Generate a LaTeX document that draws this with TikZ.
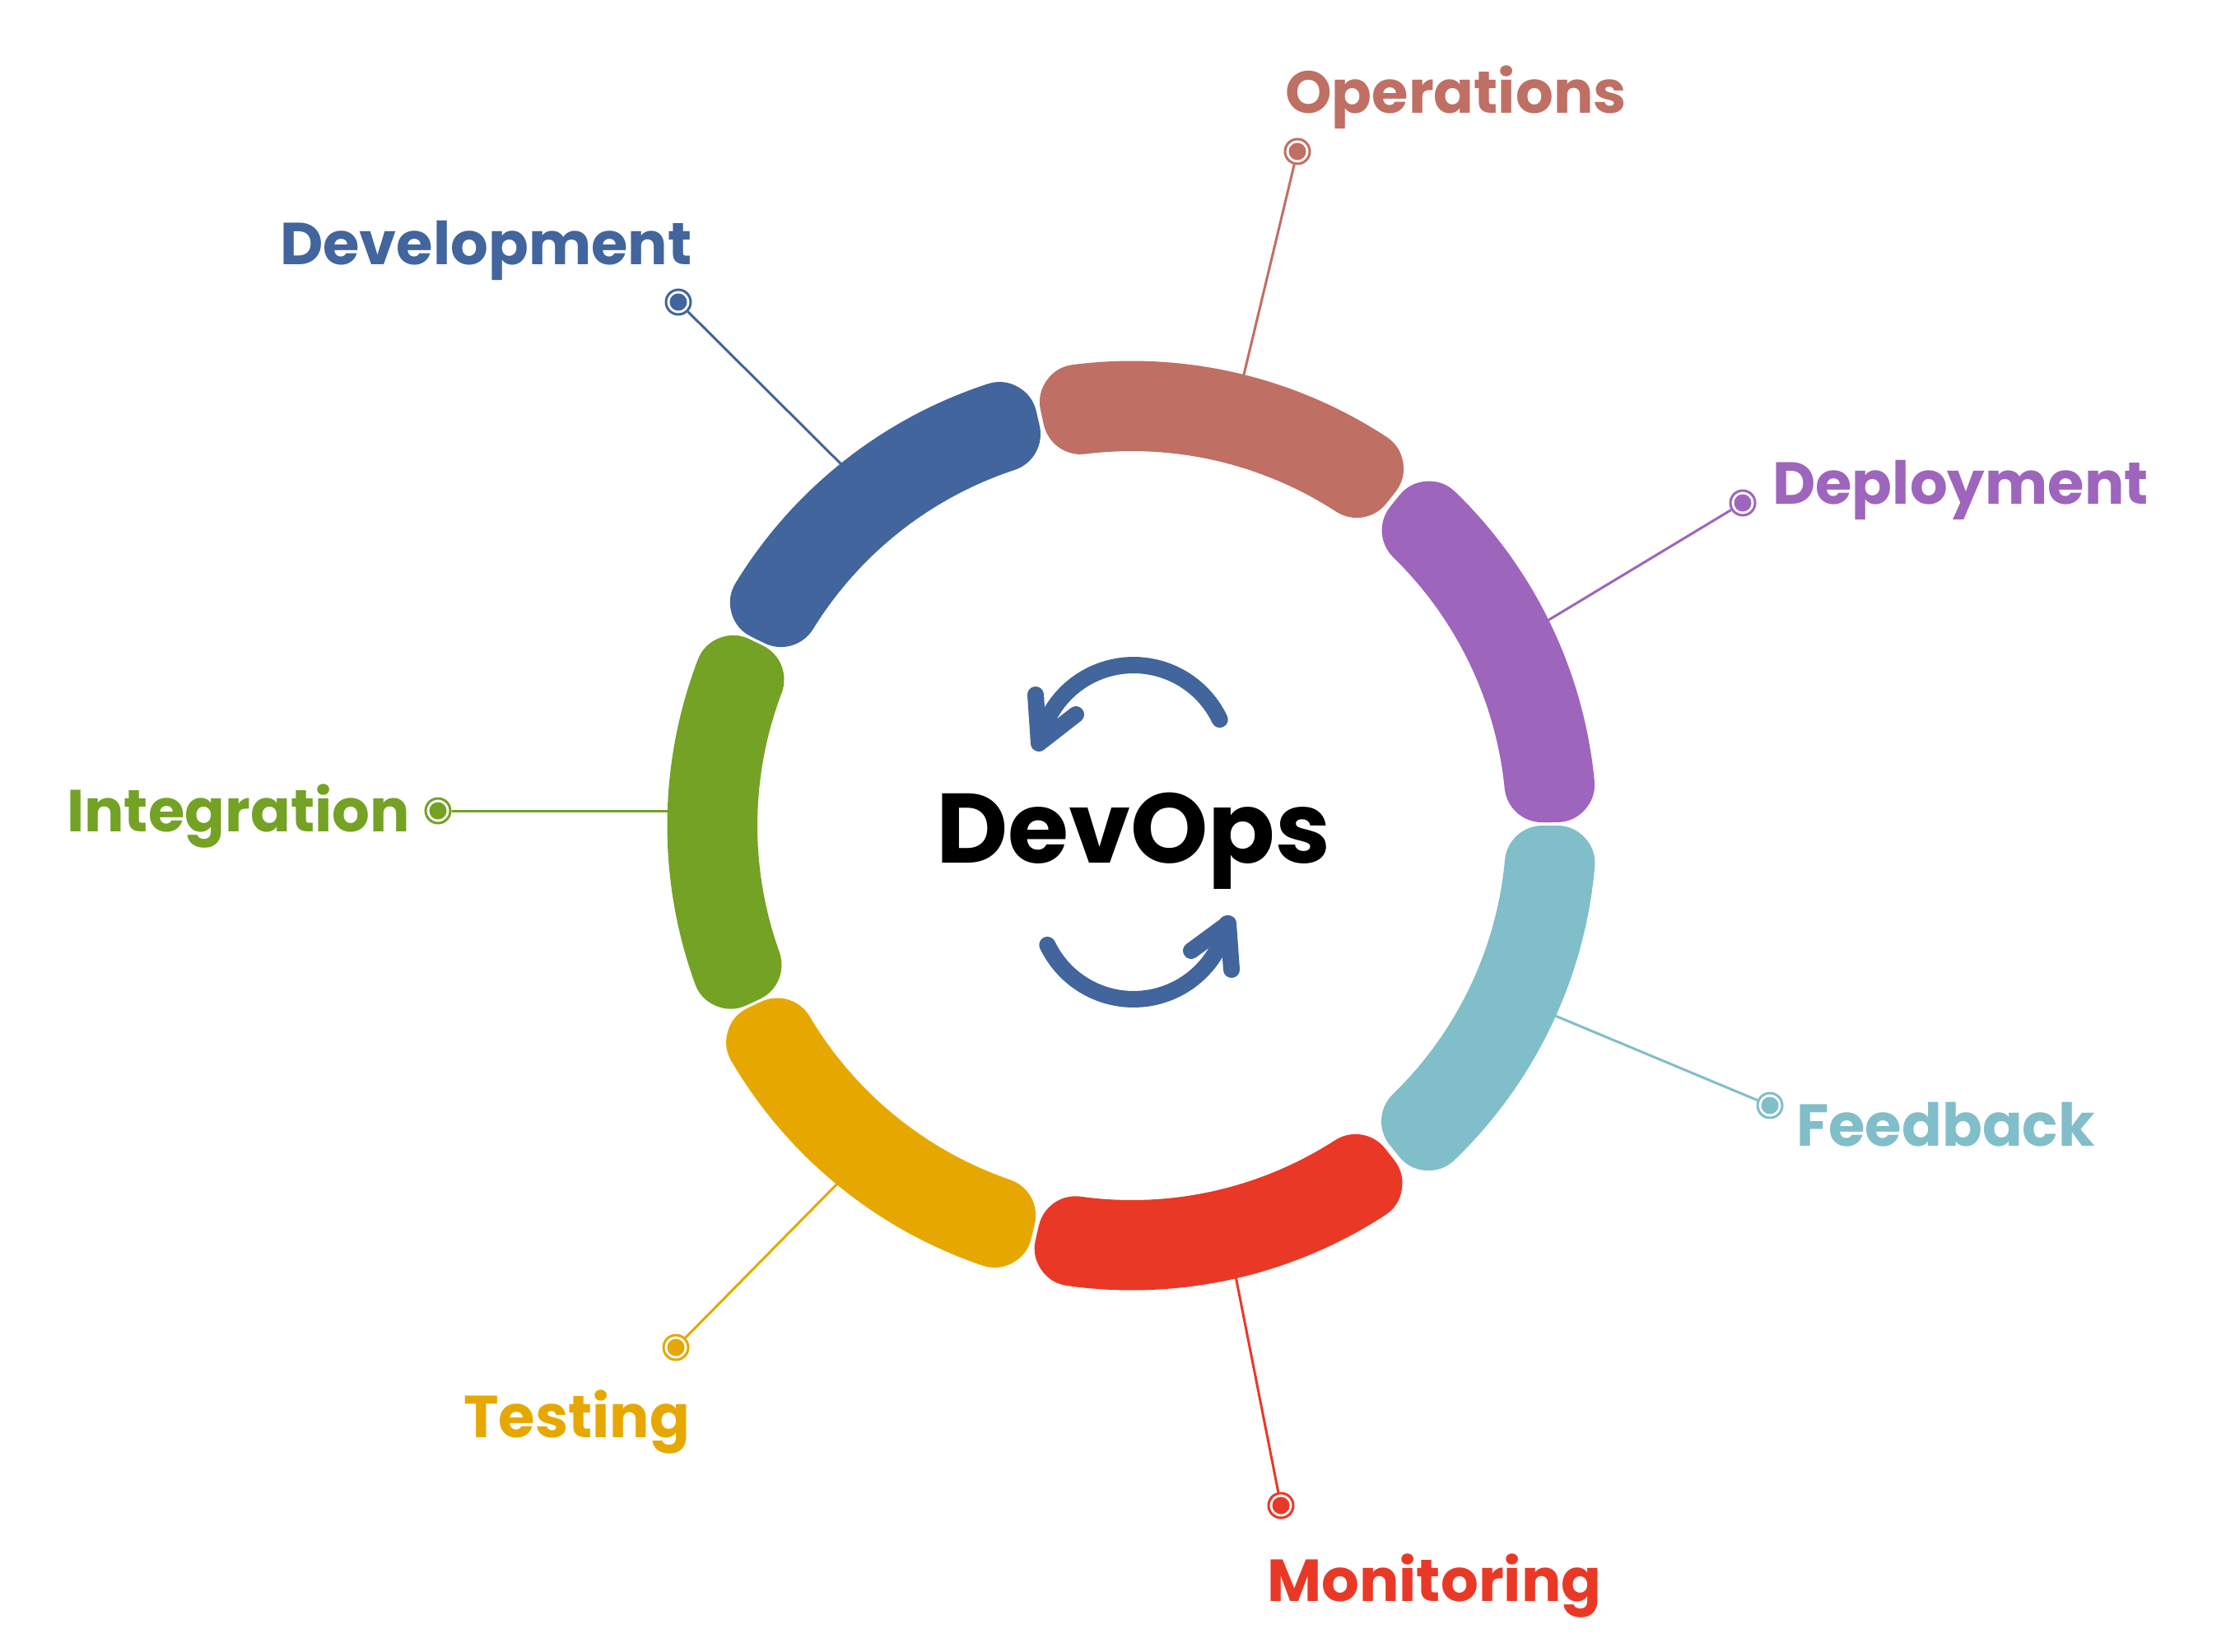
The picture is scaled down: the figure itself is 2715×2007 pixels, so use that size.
\documentclass[tikz,border=0pt]{standalone}
\usepackage{fontspec}
\setmainfont{Poppins}
\definecolor{cblue}{HTML}{41659C}
\definecolor{cpink}{HTML}{BF6F63}
\definecolor{cpurple}{HTML}{9E65BD}
\definecolor{cteal}{HTML}{80BEC9}
\definecolor{cred}{HTML}{EA3826}
\definecolor{cyellow}{HTML}{E6A800}
\definecolor{cgreen}{HTML}{74A224}
\newcommand{\ringseg}[3]{%
  \filldraw[#1,line width=92pt,line join=round]
    plot[domain=#2+5.09:#3-5.09,samples=50] ({1375+518.5*cos(\x)},{1003-518.5*sin(\x)})
    -- plot[domain=#3-5.27:#2+5.27,samples=50] ({1375+501*cos(\x)},{1003-501*sin(\x)})
    -- cycle;}
\tikzset{
  ringdot/.style={circle,draw=#1,fill=white,line width=3pt,minimum size=30pt,inner sep=0pt},
  coredot/.style={circle,fill=#1,minimum size=21pt,inner sep=0pt},
  spoke/.style={draw=#1,line width=3pt},
  lbl/.style={text=#1,anchor=base west,inner sep=0pt,font=\fontsize{72}{86}\selectfont\bfseries},
  arrowstroke/.style={draw=cblue,line width=20pt,line cap=round,line join=round},
}
\begin{document}
\begin{tikzpicture}[x=1pt,y=-1pt]
\useasboundingbox (0,0) rectangle (2715,2007);
\fill[white] (0,0) rectangle (2715,2007);
% connector free ends, under the ring
\coordinate (opEnd) at (1505,480);
\coordinate (deEnd) at (1860,766);
\coordinate (feEnd) at (1870,1226);
\coordinate (moEnd) at (1497,1530);
\coordinate (teEnd) at (1030,1425);
\coordinate (inEnd) at (830,985);
\coordinate (dvEnd) at (1040,582);
% marker dots
\node[ringdot=cpink]   (opRing) at (1576,184)  {};
\node[ringdot=cpurple] (deRing) at (2117,611)  {};
\node[ringdot=cteal]   (feRing) at (2150,1343) {};
\node[ringdot=cred]    (moRing) at (1556,1829) {};
\node[ringdot=cyellow] (teRing) at (821,1637)  {};
\node[ringdot=cgreen]  (inRing) at (532,985)   {};
\node[ringdot=cblue]   (dvRing) at (824,367)   {};
\node[coredot=cpink]   (opCore) at (opRing) {};
\node[coredot=cpurple] (deCore) at (deRing) {};
\node[coredot=cteal]   (feCore) at (feRing) {};
\node[coredot=cred]    (moCore) at (moRing) {};
\node[coredot=cyellow] (teCore) at (teRing) {};
\node[coredot=cgreen]  (inCore) at (inRing) {};
\node[coredot=cblue]   (dvCore) at (dvRing) {};
% connectors
\draw[spoke=cpink]   (opRing) -- (opEnd);
\draw[spoke=cpurple] (deRing) -- (deEnd);
\draw[spoke=cteal]   (feRing) -- (feEnd);
\draw[spoke=cred]    (moRing) -- (moEnd);
\draw[spoke=cyellow] (teRing) -- (teEnd);
\draw[spoke=cgreen]  (inRing) -- (inEnd);
\draw[spoke=cblue]   (dvRing) -- (dvEnd);
% ring segments
\ringseg{cpink}{51.7}{102.4}
\ringseg{cpurple}{0.45}{51.0}
\ringseg{cteal}{-51.1}{0}
\ringseg{cred}{-103.1}{-51.9}
\ringseg{cyellow}{205.4}{256.3}
\ringseg{cgreen}{154.0}{205}
\ringseg{cblue}{103}{153.6}
% labels
\node[lbl=cpink]   (opText) at (1561,138)  {Operations};
\node[lbl=cblue]   (dvText) at (340,321)   {Development};
\node[lbl=cpurple] (deText) at (2153,612)  {Deployment};
\node[lbl=cteal]   (feText) at (2182,1392) {Feedback};
\node[lbl=cred]    (moText) at (1539,1945) {Monitoring};
\node[lbl=cyellow] (teText) at (563,1746)  {Testing};
\node[lbl=cgreen]  (inText) at (81,1010)   {Integration};
\node[text=black,anchor=base west,inner sep=0pt,font=\fontsize{120}{140}\selectfont\bfseries] (title) at (1137,1048) {DevOps};
% cycle arrows
\draw[arrowstroke] plot[domain=25.5:168,samples=40] ({1377+116*cos(\x)},{924-116*sin(\x)});
\draw[arrowstroke] (1258,844) -- (1262,903) -- (1307,868);
\draw[arrowstroke] plot[domain=205.5:348,samples=40] ({1377+116*cos(\x)},{1098-116*sin(\x)});
\draw[arrowstroke] (1496,1178) -- (1492,1122) -- (1447,1155);
\end{tikzpicture}
\end{document}
